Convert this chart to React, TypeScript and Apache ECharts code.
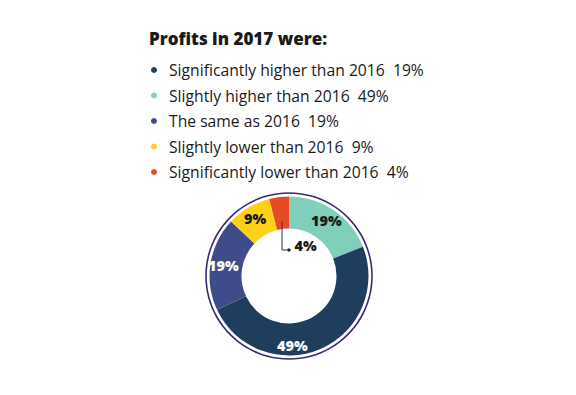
import React, { useEffect, useRef } from "react";
import * as echarts from "echarts";

// ---- data ----
const categories = [
  "Significantly higher than 2016",
  "Slightly higher than 2016",
  "The same as 2016",
  "Slightly lower than 2016",
  "Significantly lower than 2016",
];
const shares = [19, 49, 19, 9, 4];
const legendColors = ["#1f3e5e", "#7fcfba", "#3f4b8b", "#fcd116", "#e84a26"];
const sliceColors = ["#7fcfba", "#1f3e5e", "#3f4b8b", "#fcd116", "#e84a26"];
const labelColors = ["#1a1a1a", "#ffffff", "#ffffff", "#1a1a1a", "#1a1a1a"];
const titleText = "Profits in 2017 were:";

// ---- layout ----
const CX = 289;
const CY = 276;
const R_IN = 47.5;
const R_OUT = 79.5;
const R_BORDER = 83;
const FONT = "'Open Sans', Lato, sans-serif";

export default function App() {
  const ref = useRef<HTMLDivElement>(null);

  useEffect(() => {
    if (!ref.current) return;
    const chart = echarts.init(ref.current, undefined, { renderer: "svg" });

    // leader line for the smallest slice, derived from the data
    const total = shares.reduce((a, b) => a + b, 0);
    const before = shares.slice(0, 4).reduce((a, b) => a + b, 0);
    const midDeg = ((before + shares[4] / 2) / total) * 360; // clockwise from top
    const rad = (midDeg * Math.PI) / 180;
    const sx = CX + Math.sin(rad) * (R_IN + 8);
    const sy = CY - Math.cos(rad) * (R_IN + 8);
    const ly = CY - 26;

    chart.setOption({
      animation: false,
      title: {
        text: titleText,
        left: 149,
        top: 30,
        padding: 0,
        textStyle: {
          fontFamily: FONT,
          fontSize: 17,
          fontWeight: 800,
          color: "#1a1a1a",
        },
      },
      legend: {
        orient: "vertical",
        left: 151,
        top: 62,
        padding: 0,
        icon: "circle",
        itemWidth: 20,
        itemHeight: 6,
        itemGap: 9.5,
        selectedMode: false,
        data: categories.map((c, i) => ({
          name: c,
          itemStyle: { color: legendColors[i] },
        })),
        formatter: (name: string) => {
          const i = categories.indexOf(name);
          return name + "  " + shares[i] + "%";
        },
        textStyle: {
          fontFamily: FONT,
          fontSize: 15.7,
          lineHeight: 15,
          color: "#1a1a1a",
        },
      },
      graphic: [
        {
          type: "polyline",
          silent: true,
          z: 10,
          shape: {
            points: [
              [sx, sy],
              [sx, ly],
              [CX, ly],
            ],
          },
          style: { stroke: "#333", lineWidth: 1, fill: "none" },
        },
        {
          type: "circle",
          silent: true,
          z: 10,
          shape: { cx: CX, cy: ly, r: 1.6 },
          style: { fill: "#1a1a1a" },
        },
      ],
      series: [
        {
          type: "pie",
          silent: true,
          center: [CX, CY],
          radius: [R_BORDER - 0.8, R_BORDER + 0.8],
          data: [{ value: 1, name: "border" }],
          itemStyle: { color: "#3b2a6d" },
          label: { show: false },
          labelLine: { show: false },
          legendHoverLink: false,
        },
        {
          type: "pie",
          silent: true,
          center: [CX, CY],
          radius: [R_IN, R_OUT],
          startAngle: 90,
          clockwise: true,
          data: categories.map((c, i) => ({
            name: c,
            value: shares[i],
            itemStyle: { color: sliceColors[i] },
            label: { color: labelColors[i] },
          })),
          label: {
            show: true,
            position: "inside",
            formatter: "{c}%",
            fontFamily: FONT,
            fontSize: 14.5,
            fontWeight: 800,
          },
          labelLine: { show: false },
          labelLayout: (p: any) => {
            if (p.dataIndex === 1) return { dx: -23, dy: 8 };
            if (p.dataIndex === 4) return { dx: 25, dy: 35 };
            return {};
          },
        },
      ],
    });

    return () => chart.dispose();
  }, []);

  return (
    <div
      ref={ref}
      style={{ position: "fixed", left: 0, top: 0, width: 576, height: 395, background: "#fff" }}
    />
  );
}
